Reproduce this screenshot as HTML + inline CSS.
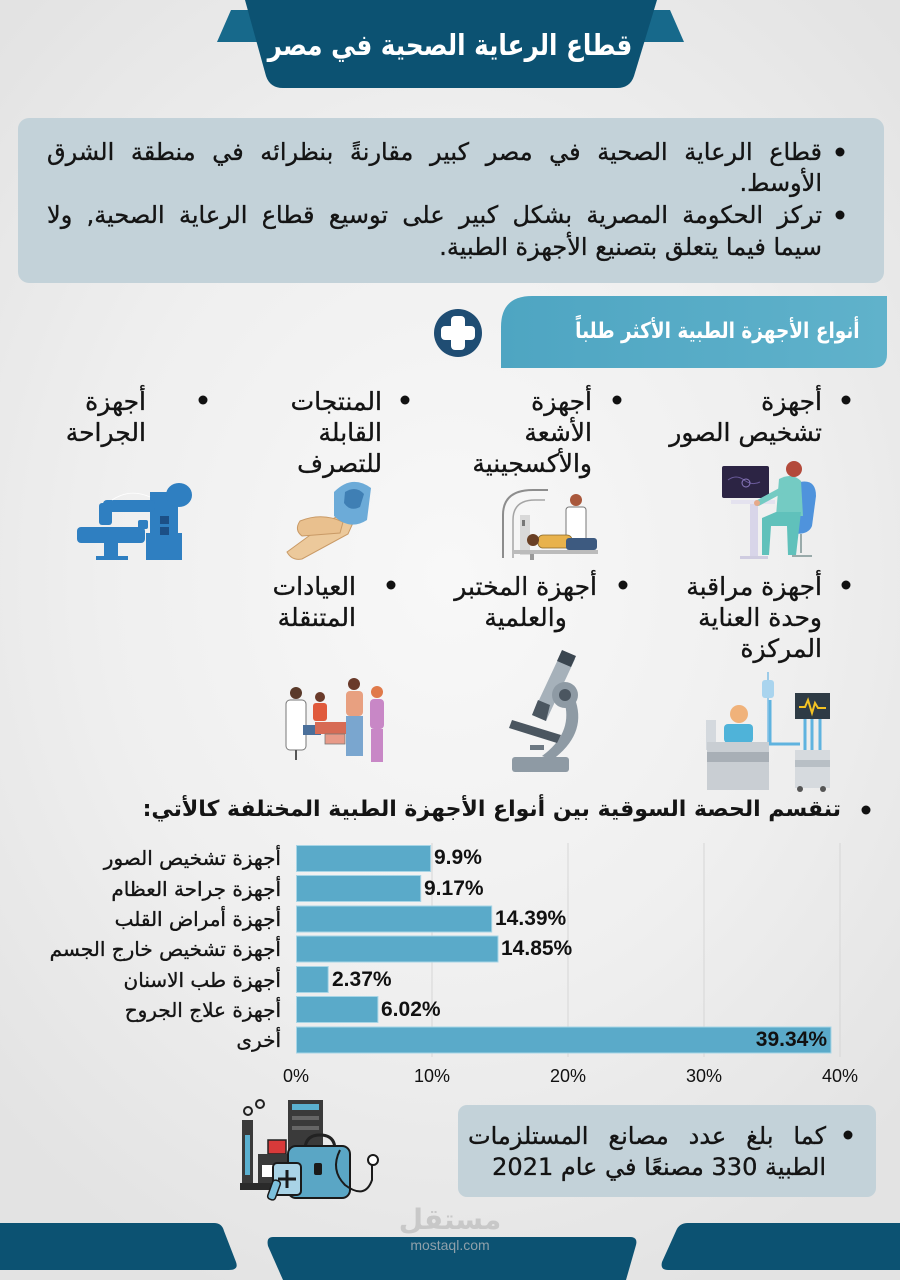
<!DOCTYPE html>
<html lang="ar">
<head>
<meta charset="utf-8">
<style>
  html,body{margin:0;padding:0;}
  body{width:900px;height:1280px;overflow:hidden;position:relative;
    background:radial-gradient(ellipse 70% 60% at 50% 45%, #f8f8f8 0%, #efefef 55%, #e3e3e3 100%);}
  .t{position:absolute;direction:rtl;white-space:nowrap;
     font-family:"DejaVu Sans","Noto Sans CJK SC",sans-serif;color:#141414;}
  .b{-webkit-text-stroke:0.35px #141414;}
  .j{text-align:justify;text-align-last:justify;white-space:normal;}
  svg{position:absolute;left:0;top:0;}
  .num{position:absolute;font-family:"Liberation Sans Narrow","Liberation Sans",sans-serif;color:#111;white-space:nowrap;}
</style>
</head>
<body>
<svg width="900" height="1280" viewBox="0 0 900 1280" xmlns="http://www.w3.org/2000/svg">
  <!-- header -->
  <polygon points="231,10 262,10 262,42 217,42" fill="#17698b"/>
  <polygon points="638,10 670,10 684,42 638,42" fill="#17698b"/>
  <path d="M245,0 H657 L634,76 Q630,88 617,88 H283 Q270,88 266,76 Z" fill="#0c5272"/>

  <!-- bullet box -->
  <rect x="18" y="118" width="866" height="165" rx="11" fill="#c3d2d9"/>
  <circle cx="840" cy="152" r="4.5" fill="#111"/>
  <circle cx="840" cy="215" r="4.5" fill="#111"/>

  <!-- section header -->
  <defs>
    <linearGradient id="sg" x1="0" x2="1">
      <stop offset="0" stop-color="#4ea5c2"/><stop offset="1" stop-color="#60b2cb"/>
    </linearGradient>
  </defs>
  <path d="M532,296 H887 V354 Q887,368 873,368 H501 V327 Q501,296 532,296 Z" fill="url(#sg)"/>
  <circle cx="458" cy="333" r="24" fill="#1f4d73"/>
  <rect x="451" y="316" width="14" height="34" rx="4" fill="#fff"/>
  <rect x="441" y="326" width="34" height="14" rx="4" fill="#fff"/>

  <!-- grid bullets -->
  <g fill="#111">
    <circle cx="846" cy="400" r="4.5"/>
    <circle cx="617" cy="400" r="4.5"/>
    <circle cx="405" cy="400" r="4.5"/>
    <circle cx="203" cy="400" r="4.5"/>
    <circle cx="846" cy="585" r="4.5"/>
    <circle cx="623" cy="585" r="4.5"/>
    <circle cx="391" cy="585" r="4.5"/>
    <circle cx="866" cy="810" r="4.5"/>
  </g>

  <!-- ICON 1: imaging -->
  <g>
    <rect x="722" y="466" width="47" height="32" rx="2" fill="#2c2444"/>
    <path d="M728,480 q8,-6 16,0 t16,2" stroke="#6a5a9a" fill="none" stroke-width="1"/>
    <circle cx="746" cy="483" r="4" fill="none" stroke="#8c7ac0" stroke-width="1"/>
    <rect x="731" y="500" width="44" height="4" fill="#e4e2ef"/>
    <rect x="750" y="504" width="8" height="54" fill="#d8d5e9"/>
    <rect x="740" y="556" width="28" height="3" fill="#cfcce0"/>
    <path d="M796,483 Q816,477 816,496 L812,526 Q808,536 791,533 L786,520 Z" fill="#4f93dc"/>
    <path d="M779,479 Q792,472 801,481 L803,516 L776,516 Z" fill="#74cbc3"/>
    <path d="M782,490 L758,503" stroke="#74cbc3" stroke-width="6" stroke-linecap="round"/>
    <circle cx="757" cy="503" r="3" fill="#e6a98a"/>
    <circle cx="794" cy="469" r="8" fill="#b34a3b"/>
    <path d="M776,512 L801,512 L796,555 L788,555 L787,526 L771,526 L769,555 L762,555 L762,518 Z" fill="#60c1bb"/>
    <path d="M801,534 V553 M792,556 H812" stroke="#9aa" stroke-width="2"/>
  </g>

  <!-- ICON 2: MRI -->
  <g>
    <path d="M503,558 V515 Q503,490 533,490 H548" stroke="#8d8d8d" stroke-width="2" fill="none"/>
    <path d="M513,558 V520 Q513,500 535,500 H545" stroke="#a5a5a5" stroke-width="1.5" fill="none"/>
    <rect x="520" y="515" width="10" height="40" fill="#d9d9d9"/>
    <rect x="522" y="520" width="3" height="6" fill="#777"/>
    <rect x="566" y="507" width="20" height="34" rx="3" fill="#fff" stroke="#777" stroke-width="1"/>
    <circle cx="576" cy="500" r="6" fill="#a9583c"/>
    <rect x="538" y="535" width="34" height="13" rx="5" fill="#e8b24c" stroke="#8a6a2a" stroke-width="0.8"/>
    <rect x="566" y="538" width="31" height="12" rx="3" fill="#3d5a80"/>
    <circle cx="533" cy="540" r="6" fill="#6a4025"/>
    <rect x="512" y="550" width="86" height="4" fill="#bbb"/>
    <rect x="530" y="554" width="4" height="6" fill="#999"/>
  </g>

  <!-- ICON 3: hands/glove -->
  <g>
    <path d="M287,552 L328,522 Q343,511 356,516 L348,534 L302,559 Q292,561 287,552 Z" fill="#ecc99b" stroke="#c99a66" stroke-width="1"/>
    <path d="M300,521 Q322,512 343,522 L340,533 L302,536 Q294,530 300,521 Z" fill="#e9c08e" stroke="#c99a66" stroke-width="1"/>
    <path d="M334,492 Q352,474 371,488 L367,520 Q350,531 334,516 Z" fill="#6cabd8"/>
    <path d="M345,492 Q356,485 364,494 L360,507 Q350,512 344,503 Z" fill="#3f7fb4"/>
  </g>

  <!-- ICON 4: surgical robot -->
  <g fill="#2f7fc1">
    <rect x="77" y="527" width="68" height="16" rx="4"/>
    <rect x="104" y="543" width="14" height="14"/>
    <rect x="96" y="556" width="32" height="4"/>
    <rect x="150" y="492" width="28" height="68"/>
    <rect x="146" y="533" width="36" height="27"/>
    <ellipse cx="179" cy="495" rx="13" ry="12"/>
    <rect x="103" y="500" width="52" height="12" rx="4"/>
    <rect x="99" y="503" width="13" height="22" rx="3"/>
    <rect x="138" y="520" width="10" height="9" rx="2"/>
    <rect x="160" y="516" width="9" height="8" fill="#1c4f86"/>
    <rect x="160" y="527" width="9" height="8" fill="#1c4f86"/>
    <path d="M112,500 Q130,488 150,497" stroke="#fff" stroke-width="0.8" fill="none"/>
  </g>

  <!-- ICON 5: ICU -->
  <g>
    <line x1="768" y1="672" x2="768" y2="790" stroke="#9ccbe8" stroke-width="2"/>
    <rect x="762" y="680" width="12" height="18" rx="3" fill="#a9d4ee"/>
    <path d="M770,700 V744 H800 M805,718 V750 M812,718 V750 M820,718 V750" stroke="#5fb3df" stroke-width="3" fill="none"/>
    <rect x="795" y="693" width="35" height="26" fill="#2e3b45"/>
    <polyline points="799,707 805,707 808,700 812,713 815,703 818,708 826,708" fill="none" stroke="#f4c323" stroke-width="2"/>
    <rect x="706" y="720" width="10" height="30" fill="#d4d9de"/>
    <circle cx="739" cy="714" r="9" fill="#f0b27a"/>
    <rect x="724" y="724" width="29" height="19" rx="4" fill="#4fb3d9"/>
    <rect x="707" y="742" width="62" height="48" fill="#c9ced3"/>
    <rect x="707" y="752" width="62" height="10" fill="#a8afb6"/>
    <rect x="795" y="750" width="35" height="38" fill="#d6dade"/>
    <rect x="795" y="760" width="35" height="7" fill="#b8bfc5"/>
    <circle cx="800" cy="789" r="3" fill="#555"/>
    <circle cx="823" cy="789" r="3" fill="#555"/>
  </g>

  <!-- ICON 6: microscope -->
  <g>
    <rect x="512" y="757" width="57" height="15" rx="3" fill="#8e9aa4"/>
    <path d="M552,760 Q586,735 576,702 L565,704 Q572,734 542,756 Z" fill="#8e9aa4"/>
    <polygon points="561,653 575,659 546,721 532,715" fill="#a6b1ba"/>
    <polygon points="562,650 576,656 571,667 557,661" fill="#3b4650"/>
    <polygon points="538,700 550,705 546,721 532,715" fill="#4b5660"/>
    <circle cx="565" cy="695" r="13" fill="#8e9aa4"/>
    <circle cx="565" cy="695" r="6" fill="#4b5660"/>
    <polygon points="512,720 561,735 557,743 509,728" fill="#4b5660"/>
    <rect x="530" y="745" width="14" height="5" fill="#6d7882"/>
  </g>

  <!-- ICON 7: clinic people -->
  <g>
    <rect x="286" y="700" width="20" height="50" rx="4" fill="#fff" stroke="#777" stroke-width="1"/>
    <circle cx="296" cy="693" r="6" fill="#5a3a2a"/>
    <rect x="303" y="725" width="18" height="10" fill="#4a6f9a"/>
    <line x1="296" y1="750" x2="296" y2="760" stroke="#555" stroke-width="2"/>
    <circle cx="320" cy="697" r="5" fill="#6a3a2a"/>
    <rect x="313" y="703" width="14" height="18" rx="3" fill="#e05a3c"/>
    <rect x="315" y="722" width="35" height="12" fill="#d76b55"/>
    <rect x="325" y="734" width="20" height="10" fill="#e89a88" stroke="#777" stroke-width="0.8"/>
    <circle cx="354" cy="684" r="6" fill="#6a3a2a"/>
    <rect x="346" y="691" width="17" height="25" rx="4" fill="#e8a080"/>
    <rect x="346" y="716" width="17" height="40" fill="#7aa6cf"/>
    <circle cx="377" cy="692" r="6" fill="#e07a4a"/>
    <rect x="370" y="699" width="14" height="30" rx="4" fill="#c887c6"/>
    <rect x="371" y="729" width="12" height="33" fill="#c887c6"/>
  </g>

  <!-- chart -->
  <g stroke="#d6d6d6" stroke-width="1">
    <line x1="432" y1="843" x2="432" y2="1057"/>
    <line x1="568" y1="843" x2="568" y2="1057"/>
    <line x1="704" y1="843" x2="704" y2="1057"/>
    <line x1="840" y1="843" x2="840" y2="1057"/>
  </g>
  <g fill="#5aaac9" stroke="#a7d5e6" stroke-width="1">
    <rect x="296.5" y="845.5" width="134.1" height="26"/>
    <rect x="296.5" y="875.5" width="124.2" height="26"/>
    <rect x="296.5" y="906" width="195.2" height="26"/>
    <rect x="296.5" y="936" width="201.5" height="26"/>
    <rect x="296.5" y="966.5" width="31.7" height="26"/>
    <rect x="296.5" y="996.5" width="81.4" height="26"/>
    <rect x="296.5" y="1027" width="534.5" height="26"/>
  </g>

  <!-- bottom box -->
  <rect x="458" y="1105" width="418" height="92" rx="9" fill="#c3d2d9"/>
  <circle cx="848" cy="1135" r="4.5" fill="#111"/>

  <!-- ICON 8: factory + bag -->
  <g>
    <circle cx="248" cy="1111" r="4" fill="none" stroke="#222" stroke-width="2"/>
    <circle cx="260" cy="1104" r="4" fill="none" stroke="#222" stroke-width="2"/>
    <rect x="242" y="1120" width="11" height="64" fill="#3a3a3a"/>
    <rect x="245" y="1135" width="5" height="40" fill="#5ab0d0"/>
    <rect x="288" y="1100" width="35" height="50" fill="#3a3a3a"/>
    <rect x="292" y="1104" width="27" height="6" fill="#5ab0d0"/>
    <rect x="292" y="1116" width="27" height="4" fill="#666"/>
    <rect x="292" y="1126" width="27" height="4" fill="#666"/>
    <rect x="268" y="1140" width="18" height="14" fill="#d83a3a" stroke="#222" stroke-width="1.5"/>
    <rect x="258" y="1154" width="34" height="30" fill="#3a3a3a"/>
    <rect x="262" y="1165" width="12" height="12" fill="#fff"/>
    <rect x="240" y="1183" width="60" height="7" fill="#2a2a2a"/>
    <path d="M305,1150 Q305,1135 320,1135 Q335,1135 335,1150" fill="none" stroke="#222" stroke-width="3"/>
    <rect x="288" y="1146" width="62" height="52" rx="8" fill="#5aa6c5" stroke="#1a1a1a" stroke-width="2"/>
    <rect x="314" y="1163" width="8" height="12" rx="2" fill="#1a1a1a"/>
    <path d="M340,1150 Q330,1170 345,1185 Q365,1200 372,1180 L372,1165" fill="none" stroke="#1a1a1a" stroke-width="2"/>
    <circle cx="373" cy="1160" r="5" fill="#fff" stroke="#1a1a1a" stroke-width="2"/>
    <rect x="273" y="1163" width="28" height="32" rx="4" fill="#a9d3e6" stroke="#1a1a1a" stroke-width="2"/>
    <path d="M287,1170 V1188 M278,1179 H296" stroke="#1a1a1a" stroke-width="3"/>
    <rect x="270" y="1180" width="8" height="20" rx="3" fill="#7cc0dc" stroke="#1a1a1a" stroke-width="1.5" transform="rotate(20 274 1190)"/>
  </g>

  <!-- bottom shapes -->
  <path d="M0,1223 H214 Q222,1223 224,1231 L236,1262 Q239,1270 229,1270 H0 Z" fill="#0c5272"/>
  <path d="M273,1237 H630 Q638,1237 636,1245 L626,1280 H283 L268,1246 Q266,1237 273,1237 Z" fill="#0c5272"/>
  <path d="M688,1223 H900 V1270 H668 Q660,1270 662,1262 L676,1231 Q679,1223 688,1223 Z" fill="#0c5272"/>
</svg>

<!-- header title -->
<div class="t" style="left:200px;width:500px;text-align:center;top:25px;line-height:40px;font-size:29px;font-weight:bold;color:#fff;transform:scaleX(0.85);transform-origin:50% 50%;">قطاع الرعاية الصحية في مصر</div>

<!-- bullet box text -->
<div class="t j b" style="right:78px;width:775px;top:136px;line-height:32px;font-size:24px;">قطاع الرعاية الصحية في مصر كبير مقارنةً بنظرائه في منطقة الشرق</div>
<div class="t b" style="right:78px;top:167px;line-height:32px;font-size:24px;">الأوسط.</div>
<div class="t j b" style="right:78px;width:775px;top:199px;line-height:32px;font-size:24px;">تركز الحكومة المصرية بشكل كبير على توسيع قطاع الرعاية الصحية, ولا</div>
<div class="t b" style="right:78px;top:231px;line-height:32px;font-size:24px;">سيما فيما يتعلق بتصنيع الأجهزة الطبية.</div>

<!-- section header text -->
<div class="t" style="right:40px;top:315px;line-height:34px;font-size:22px;font-weight:bold;color:#fff;transform:scaleX(0.84);transform-origin:100% 50%;">أنواع الأجهزة الطبية الأكثر طلباً</div>

<!-- grid row 1 -->
<div class="t b" style="right:78px;top:386px;line-height:31px;font-size:25px;text-align:right;">أجهزة<br>تشخيص الصور</div>
<div class="t b" style="right:308px;top:386px;line-height:31px;font-size:25px;text-align:right;">أجهزة<br>الأشعة<br>والأكسجينية</div>
<div class="t b" style="right:518px;top:386px;line-height:31px;font-size:25px;text-align:right;">المنتجات<br>القابلة<br>للتصرف</div>
<div class="t b" style="right:754px;top:386px;line-height:31px;font-size:25px;text-align:right;">أجهزة<br>الجراحة</div>

<!-- grid row 2 -->
<div class="t b" style="right:78px;top:571px;line-height:31px;font-size:25px;text-align:right;">أجهزة مراقبة<br>وحدة العناية<br>المركزة</div>
<div class="t b" style="right:303px;top:571px;line-height:31px;font-size:25px;text-align:center;">أجهزة المختبر<br>والعلمية</div>
<div class="t b" style="right:544px;top:571px;line-height:31px;font-size:25px;text-align:right;">العيادات<br>المتنقلة</div>

<!-- chart heading -->
<div class="t" style="right:59px;top:793px;line-height:34px;font-size:22px;font-weight:bold;">تنقسم الحصة السوقية بين أنواع الأجهزة الطبية المختلفة كالأتي:</div>

<!-- chart labels -->
<div class="t b" style="right:619px;top:845px;line-height:26px;font-size:20px;">أجهزة تشخيص الصور</div>
<div class="t b" style="right:619px;top:876px;line-height:26px;font-size:20px;">أجهزة جراحة العظام</div>
<div class="t b" style="right:619px;top:906px;line-height:26px;font-size:20px;">أجهزة أمراض القلب</div>
<div class="t b" style="right:619px;top:936px;line-height:26px;font-size:20px;">أجهزة تشخيص خارج الجسم</div>
<div class="t b" style="right:619px;top:967px;line-height:26px;font-size:20px;">أجهزة طب الاسنان</div>
<div class="t b" style="right:619px;top:997px;line-height:26px;font-size:20px;">أجهزة علاج الجروح</div>
<div class="t b" style="right:619px;top:1027px;line-height:26px;font-size:20px;">أخرى</div>

<!-- chart values -->
<div class="num" style="left:434px;top:845px;line-height:26px;font-size:21px;font-weight:bold;">9.9%</div>
<div class="num" style="left:424px;top:876px;line-height:26px;font-size:21px;font-weight:bold;">9.17%</div>
<div class="num" style="left:495px;top:906px;line-height:26px;font-size:21px;font-weight:bold;">14.39%</div>
<div class="num" style="left:501px;top:936px;line-height:26px;font-size:21px;font-weight:bold;">14.85%</div>
<div class="num" style="left:332px;top:967px;line-height:26px;font-size:21px;font-weight:bold;">2.37%</div>
<div class="num" style="left:381px;top:997px;line-height:26px;font-size:21px;font-weight:bold;">6.02%</div>
<div class="num" style="right:73px;top:1027px;line-height:26px;font-size:21px;font-weight:bold;">39.34%</div>

<!-- ticks -->
<div class="num" style="left:276px;width:40px;text-align:center;top:1065px;line-height:22px;font-size:18px;">0%</div>
<div class="num" style="left:407px;width:50px;text-align:center;top:1065px;line-height:22px;font-size:18px;">10%</div>
<div class="num" style="left:543px;width:50px;text-align:center;top:1065px;line-height:22px;font-size:18px;">20%</div>
<div class="num" style="left:679px;width:50px;text-align:center;top:1065px;line-height:22px;font-size:18px;">30%</div>
<div class="num" style="left:815px;width:50px;text-align:center;top:1065px;line-height:22px;font-size:18px;">40%</div>

<!-- bottom box text -->
<div class="t j b" style="right:74px;width:358px;top:1121px;line-height:31px;font-size:24px;">كما بلغ عدد مصانع المستلزمات</div>
<div class="t b" style="right:74px;top:1152px;line-height:31px;font-size:24px;">الطبية 330 مصنعًا في عام 2021</div>

<!-- watermark -->
<div class="t" style="left:396px;width:108px;text-align:center;top:1203px;line-height:34px;font-size:28px;font-weight:bold;color:#c8c8c8;">مستقل</div>
<div class="num" style="left:390px;width:120px;text-align:center;top:1236px;line-height:18px;font-size:14px;color:#8fa0aa;">mostaql.com</div>
</body>
</html>
